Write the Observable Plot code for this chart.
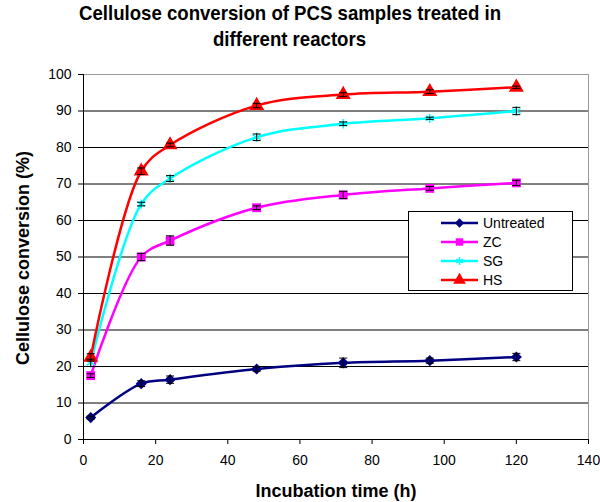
<!DOCTYPE html>
<html>
<head>
<meta charset="utf-8">
<script src="https://cdn.jsdelivr.net/npm/d3@7"></script>
<script src="https://cdn.jsdelivr.net/npm/@observablehq/plot@0.6"></script>
<style>
  body { margin: 0; background: #fff; font-family: "Liberation Sans", Arial, sans-serif; }
  #wrap { position: relative; width: 600px; height: 502px; overflow: hidden; }
  .title { position: absolute; left: 290px; white-space: nowrap; font-weight: bold; font-size: 21px; line-height: 21px; color: #000; transform-origin: 0 0; }
  #chart { position: absolute; left: 0; top: 60px; }
  .axlabel { position: absolute; white-space: nowrap; font-weight: bold; font-size: 18px; line-height: 18px; color: #000; }
  #legend { position: absolute; left: 408px; top: 211px; width: 163px; height: 78px; border: 1px solid #000; background: #fff; }
  .row { position: absolute; left: 32px; height: 19px; display: flex; align-items: center; font-size: 14px; color: #000; }
  .row svg { margin-right: 5px; }
</style>
</head>
<body>
<div id="wrap">
  <div class="title" id="t1" style="top:2px">Cellulose conversion of PCS samples treated in</div>
  <div class="title" id="t2" style="top:28px">different reactors</div>
  <div id="chart"></div>
  <div class="axlabel" id="ylab"></div>
  <div class="axlabel" id="xlab"></div>
  <div id="legend"></div>
</div>
<script>
const hours = [2, 16, 24, 48, 72, 96, 120];
const seriesNames = ["Untreated", "ZC", "SG", "HS"];
const untreated = [6.0, 15.3, 16.4, 19.3, 21.0, 21.6, 22.6];
const zc = [17.5, 50.0, 54.5, 63.5, 67.0, 68.8, 70.3];
const sg = [21.0, 64.5, 71.5, 82.8, 86.5, 88.0, 90.0];
const hs = [22.5, 73.5, 80.7, 91.5, 94.5, 95.3, 96.5];
const errUntreated = [0.4, 0.8, 1.0, 0.6, 1.3, 0.7, 1.0];
const errZc = [0.5, 1.0, 1.3, 0.5, 1.0, 0.5, 0.7];
const errSg = [1.0, 0.5, 0.8, 0.9, 0.5, 0.3, 1.0];
const errHs = [1.0, 0.9, 0.5, 0.6, 0.5, 0.5, 0.3];
const colors = ["#000080", "#ff00ff", "#00ffff", "#ff0000"];
const xTicks = [0, 20, 40, 60, 80, 100, 120, 140];
const yTicks = [0, 10, 20, 30, 40, 50, 60, 70, 80, 90, 100];
const yLabel = "Cellulose conversion (%)";
const xLabel = "Incubation time (h)";

const values = [untreated, zc, sg, hs];
const errs = [errUntreated, errZc, errSg, errHs];
const symbols = [d3.symbolDiamond2, d3.symbolSquare, d3.symbolAsterisk, d3.symbolTriangle];
const sizes = [5.0, 5.0, 4.4, 5.6];

const data = [];
seriesNames.forEach((s, i) => hours.forEach((h, j) => data.push({series: s, x: h, y: values[i][j], e: errs[i][j], i})));

const capSymbol = { draw(ctx) { ctx.moveTo(-4, 0); ctx.lineTo(4, 0); } };

const marks = [
  Plot.ruleY(yTicks.filter(t => t > 0 && t < 100), {stroke: "#000", strokeWidth: 1}),
  Plot.frame({stroke: "#999", strokeWidth: 1}),
  Plot.ruleX([0], {stroke: "#000", strokeWidth: 1}),
  Plot.ruleY([0], {stroke: "#000", strokeWidth: 1}),
  Plot.axisX({ticks: xTicks, tickSize: 5, tickPadding: 11, label: null, fontSize: 14}),
  Plot.axisY({ticks: yTicks, tickSize: 5, tickPadding: 7, label: null, fontSize: 14})
];
seriesNames.forEach((s, i) => {
  const d = data.filter(r => r.i === i);
  marks.push(Plot.line(d, {x: "x", y: "y", stroke: colors[i], strokeWidth: 2.5, curve: "catmull-rom"}));
});
seriesNames.forEach((s, i) => {
  const d = data.filter(r => r.i === i);
  const isStroke = i === 2;
  marks.push(Plot.dot(d, {x: "x", y: "y", symbol: symbols[i], r: sizes[i],
    fill: isStroke ? "none" : colors[i], stroke: isStroke ? colors[i] : "none", strokeWidth: 1.5}));
});
marks.push(Plot.ruleX(data, {x: "x", y1: d => d.y - d.e, y2: d => d.y + d.e, stroke: "#000", strokeWidth: 1}));
marks.push(Plot.dot(data, {x: "x", y: d => d.y - d.e, symbol: capSymbol, r: 1, stroke: "#000", strokeWidth: 1, fill: "none"}));
marks.push(Plot.dot(data, {x: "x", y: d => d.y + d.e, symbol: capSymbol, r: 1, stroke: "#000", strokeWidth: 1, fill: "none"}));

const chart = Plot.plot({
  width: 600, height: 442,
  marginLeft: 83, marginRight: 12, marginTop: 14, marginBottom: 63,
  x: {domain: [0, 140]},
  y: {domain: [0, 100]},
  style: {fontFamily: "'Liberation Sans', Arial, sans-serif", fontSize: "14px", color: "#000", background: "#fff", overflow: "visible"},
  marks
});
document.getElementById("chart").appendChild(chart);

// title: fit line 1 to reference width, centre both lines at x=290
const t1 = document.getElementById("t1"), t2 = document.getElementById("t2");
const w1 = t1.getBoundingClientRect().width;
const sx = 422 / w1;
[t1, t2].forEach(t => {
  const w = t.getBoundingClientRect().width;
  t.style.left = (290 - w * sx / 2) + "px";
  t.style.transform = `scaleX(${sx})`;
});

// axis labels
const xl = document.getElementById("xlab");
xl.textContent = xLabel;
const xw = xl.getBoundingClientRect().width;
xl.style.left = (336 - xw / 2) + "px";
xl.style.top = (482) + "px";
const yl = document.getElementById("ylab");
yl.textContent = yLabel;
const yw = yl.getBoundingClientRect().width;
yl.style.left = (23 - yw / 2) + "px";
yl.style.top = (258 - 9) + "px";
yl.style.transform = "rotate(-90deg)";

// legend
const legend = d3.select("#legend");
seriesNames.forEach((s, i) => {
  const row = legend.append("div").attr("class", "row").style("top", (1 + i * 19) + "px");
  const svg = row.append("svg").attr("width", 37).attr("height", 14);
  svg.append("line").attr("x1", 0).attr("x2", 37).attr("y1", 7).attr("y2", 7).attr("stroke", colors[i]).attr("stroke-width", 2.5);
  const sym = d3.symbol(symbols[i], Math.PI * sizes[i] * sizes[i] * 0.7)();
  svg.append("path").attr("d", sym).attr("transform", "translate(18.5,7)")
    .attr("fill", i === 2 ? "none" : colors[i]).attr("stroke", i === 2 ? colors[i] : "none").attr("stroke-width", 1.5);
  row.append("span").text(s);
});
</script>
</body>
</html>
